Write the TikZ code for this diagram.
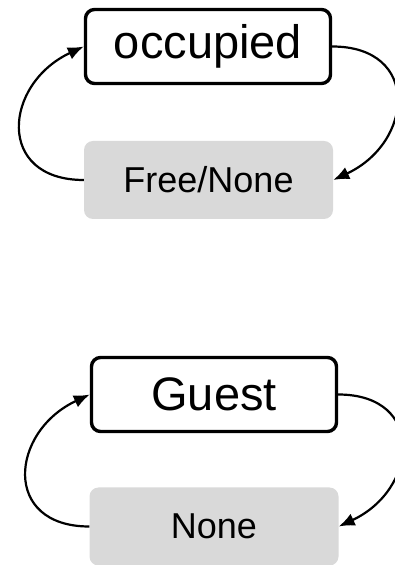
\documentclass[tikz,border=0pt]{standalone}
\usepackage{fontspec}
\setmainfont{Liberation Sans}
\usepackage{xcolor}
\usepackage{tikz}
\usetikzlibrary{positioning,arrows.meta}

\begin{document}
\begin{tikzpicture}[x=1pt,y=1pt,
    state/.style={draw,line width=3.4pt,rounded corners=9pt,minimum width=245pt,minimum height=74pt,inner sep=0pt,font=\fontsize{47}{50}\selectfont},
    value/.style={fill=black!15,rounded corners=9pt,minimum width=249pt,minimum height=78pt,inner sep=0pt,font=\fontsize{36}{40}\selectfont},
    loop/.style={line width=2.2pt,-{Latex[length=16pt,width=13pt]}}]
    \useasboundingbox (0,0) rectangle (395,565);

    \node[state] (occupied) at (208,518.5) {occupied};
    \node[value] (freenone) at (208.5,385) {Free/None};
    \node[state] (guest) at (214,170.5) {Guest};
    \node[value] (none) at (214,38.5) {None};

    \draw[loop] (freenone.west) to[out=180,in=205,looseness=1.7] (occupied.west);
    \draw[loop] (occupied.east) to[out=0,in=25,looseness=1.7] (freenone.east);

    \draw[loop] (none.west) to[out=180,in=205,looseness=1.7] (guest.west);
    \draw[loop] (guest.east) to[out=0,in=25,looseness=1.7] (none.east);
\end{tikzpicture}
\end{document}
